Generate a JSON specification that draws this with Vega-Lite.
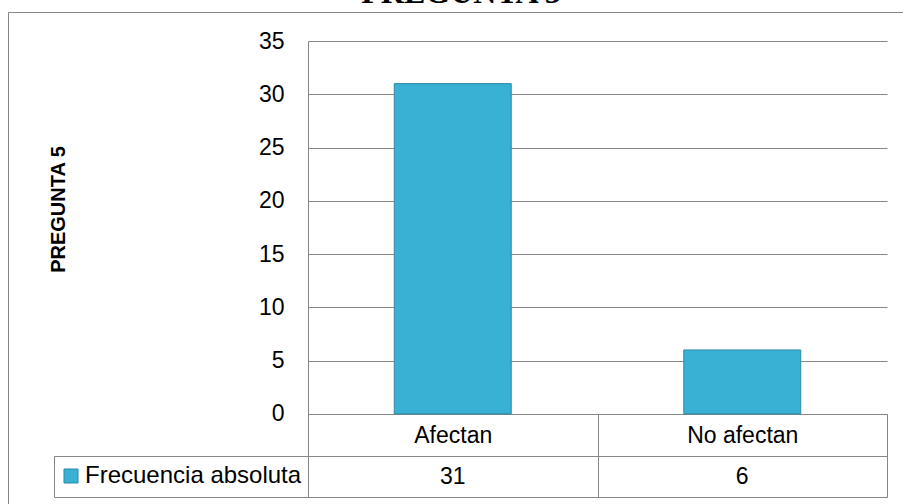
{
  "$schema": "https://vega.github.io/schema/vega-lite/v6.json",
  "width": 896,
  "height": 493,
  "autosize": {"type": "none"},
  "padding": {"left": 8, "top": 12, "right": 0, "bottom": 0},
  "background": "white",
  "title": {
    "text": "PREGUNTA 5",
    "font": "Liberation Serif",
    "fontSize": 32,
    "fontWeight": "bold",
    "color": "black",
    "anchor": "middle",
    "frame": "group",
    "baseline": "alphabetic",
    "offset": 0,
    "dx": 5,
    "dy": 23
  },
  "config": {
    "view": {"stroke": "#868686", "strokeWidth": 1},
    "font": "Liberation Sans",
    "legend": {
      "orient": "none",
      "legendX": 51,
      "legendY": 452,
      "padding": 0,
      "labelFont": "Liberation Sans",
      "labelFontSize": 24,
      "labelColor": "black",
      "labelOffset": 2,
      "labelLimit": 400,
      "symbolType": "square",
      "symbolSize": 196,
      "symbolStrokeWidth": 1,
      "symbolStrokeColor": "#2b8aa6"
    }
  },
  "data": {
    "values": [
      {"categoria": "Afectan", "frecuencia": 31},
      {"categoria": "No afectan", "frecuencia": 6}
    ]
  },
  "layer": [
    {
      "mark": {"type": "bar", "stroke": "#2b8aa6", "strokeWidth": 1, "width": {"band": 0.404}},
      "encoding": {
        "x": {
          "field": "categoria",
          "type": "nominal",
          "sort": null,
          "scale": {"range": [300, 879], "paddingInner": 0, "paddingOuter": 0},
          "axis": {
            "title": null,
            "orient": "bottom",
            "offset": -91,
            "tickBand": "extent",
            "tickSize": 83,
            "tickColor": "#868686",
            "domainColor": "#868686",
            "grid": false,
            "labelAngle": 0,
            "labelFont": "Liberation Sans",
            "labelFontSize": 23,
            "labelColor": "black",
            "labelBaseline": "middle",
            "labelPadding": -62
          }
        },
        "y": {
          "field": "frecuencia",
          "type": "quantitative",
          "scale": {"domain": [-7.8, 35], "range": [485, 29], "nice": false, "zero": false},
          "axis": {
            "title": "PREGUNTA 5",
            "titleFont": "Liberation Sans",
            "titleFontSize": 20,
            "titleFontWeight": "bold",
            "titleColor": "black",
            "titleAngle": 270,
            "titleAlign": "center",
            "titleBaseline": "middle",
            "titleX": -250,
            "titleY": 197,
            "offset": -300,
            "values": [-7.8, -3.95, 0, 5, 10, 15, 20, 25, 30, 35],
            "labelExpr": "datum.value < 0 ? '' : datum.label",
            "ticks": false,
            "labelPadding": 24,
            "labelFont": "Liberation Sans",
            "labelFontSize": 23,
            "labelColor": "black",
            "domainColor": "#868686",
            "grid": true,
            "gridColor": "#868686",
            "gridWidth": 1
          }
        },
        "color": {
          "datum": "Frecuencia absoluta",
          "type": "nominal",
          "scale": {"range": ["#39b1d5"]},
          "legend": {"title": null}
        }
      }
    },
    {
      "mark": {"type": "text", "font": "Liberation Sans", "fontSize": 23, "color": "black", "baseline": "middle", "align": "center"},
      "encoding": {
        "x": {"field": "categoria", "type": "nominal", "sort": null},
        "y": {
          "datum": 0.5,
          "type": "quantitative",
          "scale": {"domain": [0, 1], "range": [485, 444], "nice": false, "zero": false},
          "axis": {
            "title": null,
            "orient": "right",
            "offset": -850,
            "values": [0, 1],
            "labels": false,
            "ticks": true,
            "tickSize": 254,
            "tickColor": "#868686",
            "domainColor": "#868686",
            "grid": false
          }
        },
        "text": {"field": "frecuencia", "type": "quantitative"}
      }
    }
  ],
  "resolve": {"scale": {"y": "independent"}, "axis": {"y": "independent"}}
}
